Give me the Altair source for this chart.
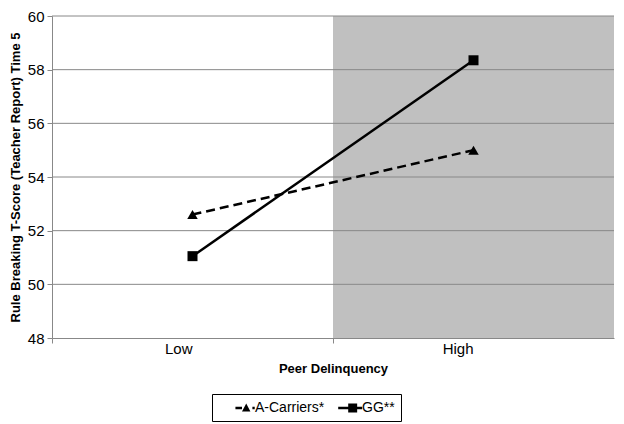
import altair as alt
import pandas as pd

categories = ["Low", "High"]
series_names = ["A-Carriers*", "GG**"]
a_carriers = [52.6, 55.0]
gg = [51.05, 58.35]
grid_values = [50, 52, 54, 56, 58, 60]
shaded = ["High"]

rows = []
for s, vals in zip(series_names, [a_carriers, gg]):
    for c, v in zip(categories, vals):
        rows.append({"cat": c, "series": s, "value": v})
df = pd.DataFrame(rows)

FONT = "Liberation Sans"
W, H = 562, 322

xscale = alt.Scale(domain=categories, paddingInner=0, paddingOuter=0)
yscale = alt.Scale(domain=[48, 60], nice=False, zero=False)

x_enc = alt.X(
    "cat:N", scale=xscale, sort=categories, title="Peer Delinquency",
    axis=alt.Axis(labelAngle=0, bandPosition=0, domainColor="#888888", tickColor="#888888",
                  tickSize=5, labelPadding=5, labelFontSize=15, labelFont=FONT, labelColor="black",
                  titleFont=FONT, titleFontSize=13, titleFontWeight="bold", titleColor="black",
                  titlePadding=6, grid=False),
)
y_enc = alt.Y(
    "value:Q", scale=yscale, title="Rule Breaking T-Score (Teacher Report) Time 5",
    axis=alt.Axis(values=[48, 50, 52, 54, 56, 58, 60], grid=False, domainColor="#888888",
                  tickColor="#888888", tickSize=5, labelPadding=3, labelFontSize=15, labelFont=FONT,
                  labelColor="black", titleFont=FONT, titleFontSize=13, titleFontWeight="bold",
                  titleColor="black", titlePadding=5),
)

shade = alt.Chart(pd.DataFrame({"cat": shaded})).mark_rect(color="#c0c0c0").encode(
    x=alt.X("cat:N", scale=xscale, sort=categories)
)

grid = alt.Chart(pd.DataFrame({"g": grid_values})).mark_rule(color="#888888", strokeWidth=1).encode(
    y=alt.Y("g:Q", scale=yscale)
)

base = alt.Chart(df)

line_a = base.transform_filter(alt.datum.series == series_names[0]).mark_line(
    color="black", strokeWidth=2.5, strokeDash=[9, 5]).encode(x=x_enc, y=y_enc)
line_g = base.transform_filter(alt.datum.series == series_names[1]).mark_line(
    color="black", strokeWidth=2.5).encode(
    x=alt.X("cat:N", scale=xscale, sort=categories), y=alt.Y("value:Q", scale=yscale))

tri = base.transform_filter(alt.datum.series == series_names[0]).mark_point(
    filled=True, color="black", opacity=1, size=110, shape="triangle-up").encode(
    x=alt.X("cat:N", scale=xscale, sort=categories), y=alt.Y("value:Q", scale=yscale))
sq = base.transform_filter(alt.datum.series == series_names[1]).mark_point(
    filled=True, color="black", opacity=1, size=100, shape="square").encode(
    x=alt.X("cat:N", scale=xscale, sort=categories), y=alt.Y("value:Q", scale=yscale))

path_a = ("M1.18,-0.16 L2.0,-0.16 L2.0,0.16 L1.18,0.16 Z "
          "M2.53,-0.56 L3.05,0.44 L2.0,0.44 Z "
          "M3.3,-0.16 L3.59,-0.16 L3.59,0.16 L3.3,0.16 Z")
path_g = ("M0.65,-0.16 L3.65,-0.16 L3.65,0.16 L0.65,0.16 Z "
          "M1.9,-0.56 L3.02,-0.56 L3.02,0.56 L1.9,0.56 Z")

legend_layer = base.mark_point(filled=True, color="black", opacity=0).encode(
    x=alt.X("cat:N", scale=xscale, sort=categories), y=alt.Y("value:Q", scale=yscale),
    shape=alt.Shape("series:N", scale=alt.Scale(domain=series_names, range=[path_a, path_g]),
                    legend=alt.Legend(title=None, orient="none", legendX=160, legendY=378,
                                      direction="horizontal", symbolSize=256, symbolOpacity=1,
                                      symbolFillColor="black", symbolStrokeWidth=0,
                                      labelFont=FONT, labelFontSize=14, labelColor="black",
                                      labelOffset=21, columnPadding=0, padding=6,
                                      strokeColor="black", fillColor="white")),
)

chart = alt.layer(shade, grid, line_a, line_g, tri, sq, legend_layer).properties(
    width=W, height=H,
    autosize=alt.AutoSizeParams(type="none"),
    padding={"left": 44, "top": 8, "right": 2, "bottom": 86},
).configure_view(stroke=None).configure_legend(strokeWidth=1)

chart.save("out.html", embed_options={"renderer": "svg", "actions": False})
